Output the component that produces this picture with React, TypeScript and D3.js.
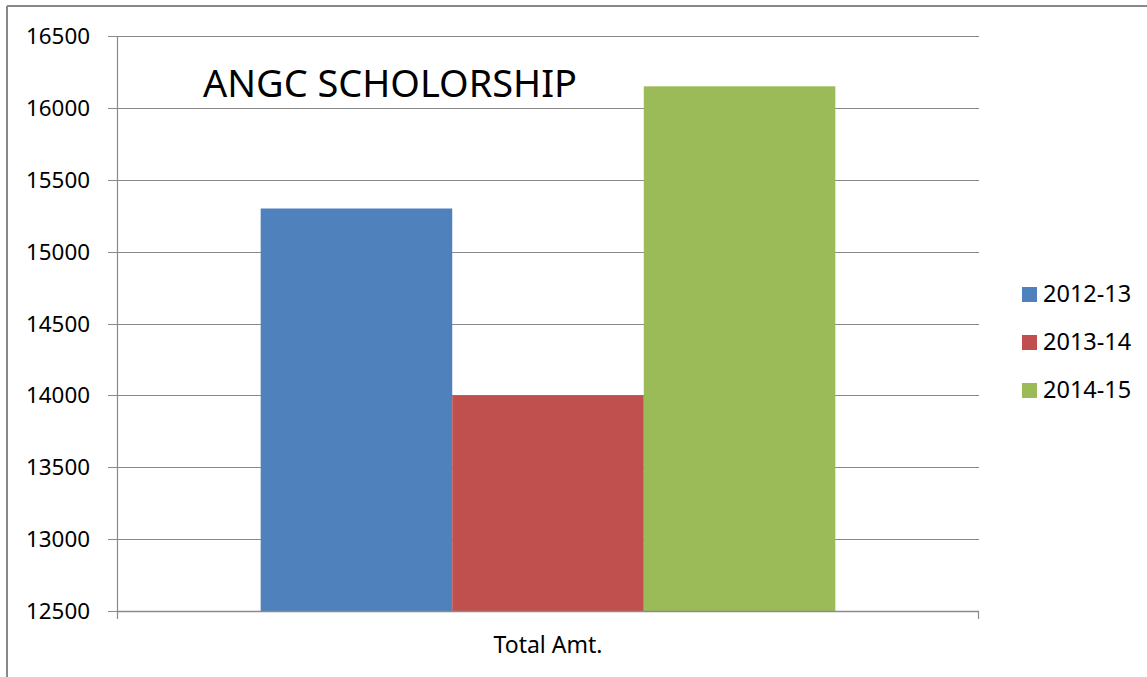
import React from "react";
import * as d3 from "d3";

const categories = ["Total Amt."];
const seriesNames = ["2012-13", "2013-14", "2014-15"];
const seriesValues = [15300, 14000, 16150];
const seriesColors = ["#4f81bd", "#c0504d", "#9bbb59"];
const yTicks = [12500, 13000, 13500, 14000, 14500, 15000, 15500, 16000, 16500];
const title = "ANGC SCHOLORSHIP";

const W = 1147;
const H = 677;
const plot = { left: 117, right: 979, top: 36, bottom: 611 };
const FONT = "'Noto Sans', 'Open Sans', sans-serif";

export default function App() {
  const y = d3.scaleLinear().domain([12500, 16500]).range([plot.bottom, plot.top]);
  const x0 = d3.scaleBand<string>().domain(categories).range([plot.left, plot.right]).padding(0);
  const x1 = d3
    .scaleBand<string>()
    .domain(seriesNames)
    .range([0, x0.bandwidth()])
    .paddingInner(0)
    .paddingOuter(0.75);

  return (
    <svg
      width={W}
      height={H}
      style={{ position: "absolute", left: 0, top: 0, background: "#fff" }}
      fontFamily={FONT}
    >
      <rect x={0} y={0} width={W} height={H} fill="#fff" />
      {/* outer border */}
      <line x1={7} y1={6} x2={W} y2={6} stroke="#888" strokeWidth={2} />
      <line x1={7} y1={6} x2={7} y2={H} stroke="#888" strokeWidth={2} />

      {/* gridlines */}
      {yTicks.map((t) => (
        <line
          key={"g" + t}
          x1={plot.left - 9}
          x2={plot.right}
          y1={Math.round(y(t)) + 0.5}
          y2={Math.round(y(t)) + 0.5}
          stroke="#8a8a8a"
          strokeWidth={1.2}
        />
      ))}

      {/* bars */}
      {categories.map((c) => (
        <g key={c} transform={`translate(${x0(c)},0)`}>
          {seriesNames.map((s, i) => (
            <rect
              key={s}
              x={x1(s)}
              y={y(seriesValues[i])}
              width={x1.bandwidth()}
              height={y(12500) - y(seriesValues[i])}
              fill={seriesColors[i]}
            />
          ))}
        </g>
      ))}

      {/* axes */}
      <line x1={plot.left + 0.5} x2={plot.left + 0.5} y1={plot.top} y2={plot.bottom + 8} stroke="#8a8a8a" strokeWidth={1.2} />
      <line x1={plot.left} x2={plot.right} y1={plot.bottom + 0.5} y2={plot.bottom + 0.5} stroke="#8a8a8a" strokeWidth={1.5} />
      <line x1={plot.right - 0.5} x2={plot.right - 0.5} y1={plot.bottom} y2={plot.bottom + 8} stroke="#8a8a8a" strokeWidth={1.2} />

      {/* y tick labels */}
      {yTicks.map((t) => (
        <text
          key={"t" + t}
          x={90}
          y={y(t) + 8}
          textAnchor="end"
          fontSize={22.4}
          fill="#000"
        >
          {t}
        </text>
      ))}

      {/* category label */}
      {categories.map((c) => (
        <text
          key={"c" + c}
          x={(x0(c) as number) + x0.bandwidth() / 2}
          y={653}
          textAnchor="middle"
          fontSize={23}
          fill="#000"
        >
          {c}
        </text>
      ))}

      {/* title */}
      <text x={203} y={97} fontSize={38} fill="#000" textLength={374} lengthAdjust="spacingAndGlyphs">
        {title}
      </text>

      {/* legend */}
      {seriesNames.map((s, i) => (
        <g key={"l" + s} transform={`translate(1022, ${287 + i * 48})`}>
          <rect x={0} y={0} width={15} height={15} fill={seriesColors[i]} />
          <text x={21} y={15} fontSize={23.5} fill="#000">
            {s}
          </text>
        </g>
      ))}
    </svg>
  );
}
